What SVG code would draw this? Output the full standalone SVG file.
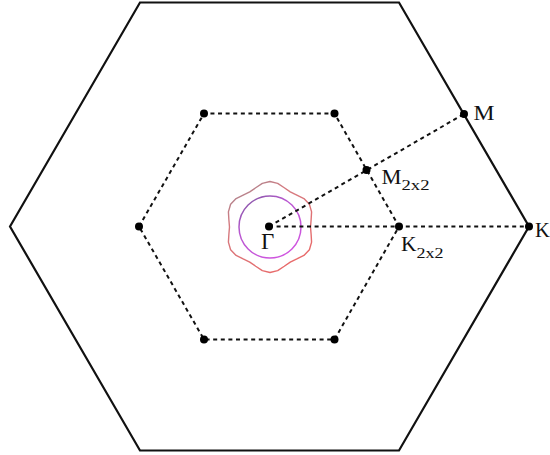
<svg xmlns="http://www.w3.org/2000/svg" width="550" height="455" viewBox="0 0 550 455">
  <style>
    .bz { fill: none; stroke: #111; stroke-width: 2.2; stroke-linejoin: miter; }
    .dash { fill: none; stroke: #111; stroke-width: 2; stroke-dasharray: 4 3.6; }
    .dot { fill: #000; }
    .lbl { font-family: "Liberation Serif", "Times New Roman", serif; font-size: 20.5px; fill: #111; }
    .sub { font-family: "Liberation Serif", "Times New Roman", serif; font-size: 15px; fill: #111; }
  </style>
  <defs>
    <linearGradient id="gOuter" x1="0" y1="0" x2="0.6" y2="1">
      <stop offset="0" stop-color="#9a8a96"/>
      <stop offset="0.35" stop-color="#d47a80"/>
      <stop offset="1" stop-color="#e86a6a"/>
    </linearGradient>
    <linearGradient id="gInner" x1="0" y1="0" x2="0.7" y2="1">
      <stop offset="0" stop-color="#7a5a9c"/>
      <stop offset="0.4" stop-color="#b858d0"/>
      <stop offset="1" stop-color="#d055e0"/>
    </linearGradient>
  </defs>
  <rect width="550" height="455" fill="#fff"/>

  <g id="outer-bz">
    <polygon class="bz" points="10,226.5 140,2.5 399,2.5 529,226.5 399,450.5 140,450.5"/>
  </g>

  <g id="inner-bz">
    <polygon class="dash" points="139,226.5 204,113.5 334.5,113.5 399,226.5 334.5,339.5 204,339.5"/>
  </g>

  <g id="fermi-surface">
    <polygon fill="none" stroke="url(#gOuter)" stroke-width="1.4" stroke-linejoin="round" points="310.5,227 311.12,219.75 311.58,211.87 309.4,204.25 303.9,198.56 296.84,195.02 290.25,191.93 284.28,187.77 277.68,183.42 270,181.5 262.32,183.42 255.72,187.77 249.75,191.93 243.16,195.02 236.1,198.56 230.6,204.25 228.42,211.87 228.88,219.75 229.5,227 228.88,234.25 228.42,242.13 230.6,249.75 236.1,255.44 243.16,258.98 249.75,262.07 255.72,266.23 262.32,270.58 270,272.5 277.68,270.58 284.28,266.23 290.25,262.07 296.84,258.98 303.9,255.44 309.4,249.75 311.58,242.13 311.12,234.25"/>
    <circle cx="270" cy="227" r="31" fill="none" stroke="url(#gInner)" stroke-width="1.5"/>
  </g>

  <g id="connectors">
    <line class="dash" x1="269" y1="226.5" x2="464" y2="114"/>
    <line class="dash" x1="269" y1="226.5" x2="529" y2="226.5"/>
  </g>

  <g id="node-gamma">
    <circle class="dot" cx="269" cy="226.5" r="4"/>
    <text class="lbl" x="261" y="249" style="font-size:23px">Γ</text>
  </g>
  <g id="node-M">
    <circle class="dot" cx="464" cy="114" r="4"/>
    <text class="lbl" x="473.5" y="119.5" textLength="21" lengthAdjust="spacingAndGlyphs">M</text>
  </g>
  <g id="node-K">
    <circle class="dot" cx="529" cy="226.5" r="4"/>
    <text class="lbl" x="535" y="236.5">K</text>
  </g>
  <g id="node-M2x2">
    <circle class="dot" cx="366.5" cy="170" r="4"/>
    <text class="lbl" x="381.5" y="183.5" textLength="20" lengthAdjust="spacingAndGlyphs">M</text>
    <text class="sub" x="401.5" y="189.5" textLength="28" lengthAdjust="spacingAndGlyphs">2x2</text>
  </g>
  <g id="node-K2x2">
    <circle class="dot" cx="399" cy="226.5" r="4"/>
    <text class="lbl" x="401" y="250.5" textLength="15.5" lengthAdjust="spacingAndGlyphs">K</text>
    <text class="sub" x="416.5" y="257.5" textLength="27" lengthAdjust="spacingAndGlyphs">2x2</text>
  </g>
  <g id="node-v1"><circle class="dot" cx="204" cy="113.5" r="4"/></g>
  <g id="node-v2"><circle class="dot" cx="334.5" cy="113.5" r="4"/></g>
  <g id="node-v3"><circle class="dot" cx="139" cy="226.5" r="4"/></g>
  <g id="node-v4"><circle class="dot" cx="204" cy="339.5" r="4"/></g>
  <g id="node-v5"><circle class="dot" cx="334.5" cy="339.5" r="4"/></g>
</svg>
